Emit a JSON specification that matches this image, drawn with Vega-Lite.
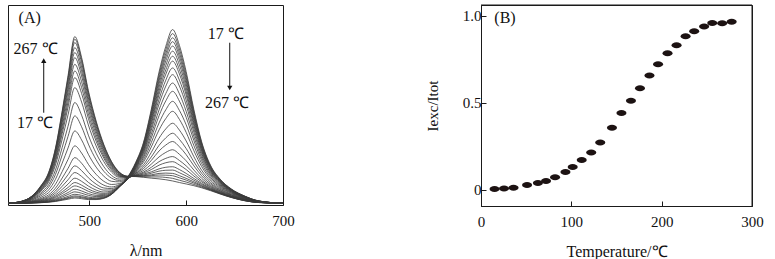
{
"$schema":"https://vega.github.io/schema/vega-lite/v6.json",
"padding":{"left":5,"top":4,"right":5,"bottom":0},
"background":"white",
"spacing":129,
"config":{
 "view":{"stroke":"#1a1a1a","strokeWidth":1},
 "font":"Liberation Serif",
 "axis":{"grid":false,"domain":false,"labelFlush":false,"tickColor":"#1a1a1a","tickSize":-5,"labelFont":"Liberation Serif","labelFontSize":15,"labelColor":"#111","titleFont":"Liberation Serif","titleFontSize":16,"titleFontWeight":"normal","titleColor":"#111","labelPadding":13,"titlePadding":14}
},
"datasets":{
"ratio":[{"T":15,"r":0.006},{"T":25.5,"r":0.008},{"T":36,"r":0.013},{"T":51,"r":0.029},{"T":63,"r":0.04},{"T":72,"r":0.052},{"T":82,"r":0.073},{"T":93.5,"r":0.103},{"T":101.5,"r":0.132},{"T":111.5,"r":0.172},{"T":122,"r":0.216},{"T":132,"r":0.273},{"T":145,"r":0.358},{"T":155.5,"r":0.442},{"T":166,"r":0.513},{"T":176,"r":0.585},{"T":186.5,"r":0.658},{"T":196,"r":0.723},{"T":206.5,"r":0.786},{"T":216.5,"r":0.832},{"T":226.5,"r":0.883},{"T":236,"r":0.912},{"T":247,"r":0.939},{"T":256,"r":0.96},{"T":267,"r":0.958},{"T":277.5,"r":0.967}],
"frameB":[{"x":0,"x2":300,"y":1.063,"y2":1.063},{"x":300,"x2":300,"y":-0.092,"y2":1.063}],
"spec":[
{"T":17,"nm":416,"I":0.010},{"T":17,"nm":430,"I":0.010},{"T":17,"nm":440,"I":0.011},{"T":17,"nm":450,"I":0.013},{"T":17,"nm":458,"I":0.016},{"T":17,"nm":465,"I":0.020},{"T":17,"nm":472,"I":0.027},{"T":17,"nm":478,"I":0.033},{"T":17,"nm":485,"I":0.040},{"T":17,"nm":492,"I":0.036},{"T":17,"nm":499,"I":0.031},{"T":17,"nm":507,"I":0.031},{"T":17,"nm":515,"I":0.038},{"T":17,"nm":523,"I":0.061},{"T":17,"nm":531,"I":0.105},{"T":17,"nm":540,"I":0.163},{"T":17,"nm":548,"I":0.244},{"T":17,"nm":556,"I":0.358},{"T":17,"nm":564,"I":0.545},{"T":17,"nm":572,"I":0.758},{"T":17,"nm":579,"I":0.905},{"T":17,"nm":586,"I":1.000},{"T":17,"nm":593,"I":0.910},{"T":17,"nm":600,"I":0.760},{"T":17,"nm":608,"I":0.543},{"T":17,"nm":616,"I":0.360},{"T":17,"nm":625,"I":0.228},{"T":17,"nm":635,"I":0.148},{"T":17,"nm":647,"I":0.090},{"T":17,"nm":660,"I":0.052},{"T":17,"nm":675,"I":0.023},{"T":17,"nm":700,"I":0.010},
{"T":27,"nm":416,"I":0.010},{"T":27,"nm":430,"I":0.010},{"T":27,"nm":440,"I":0.011},{"T":27,"nm":450,"I":0.014},{"T":27,"nm":458,"I":0.017},{"T":27,"nm":465,"I":0.022},{"T":27,"nm":472,"I":0.030},{"T":27,"nm":478,"I":0.038},{"T":27,"nm":485,"I":0.046},{"T":27,"nm":492,"I":0.042},{"T":27,"nm":499,"I":0.035},{"T":27,"nm":507,"I":0.034},{"T":27,"nm":515,"I":0.040},{"T":27,"nm":523,"I":0.062},{"T":27,"nm":531,"I":0.104},{"T":27,"nm":540,"I":0.161},{"T":27,"nm":548,"I":0.241},{"T":27,"nm":556,"I":0.352},{"T":27,"nm":564,"I":0.534},{"T":27,"nm":572,"I":0.742},{"T":27,"nm":579,"I":0.885},{"T":27,"nm":586,"I":0.977},{"T":27,"nm":593,"I":0.889},{"T":27,"nm":600,"I":0.743},{"T":27,"nm":608,"I":0.531},{"T":27,"nm":616,"I":0.353},{"T":27,"nm":625,"I":0.224},{"T":27,"nm":635,"I":0.146},{"T":27,"nm":647,"I":0.089},{"T":27,"nm":660,"I":0.051},{"T":27,"nm":675,"I":0.023},{"T":27,"nm":700,"I":0.010},
{"T":37,"nm":416,"I":0.010},{"T":37,"nm":430,"I":0.010},{"T":37,"nm":440,"I":0.012},{"T":37,"nm":450,"I":0.014},{"T":37,"nm":458,"I":0.018},{"T":37,"nm":465,"I":0.024},{"T":37,"nm":472,"I":0.033},{"T":37,"nm":478,"I":0.042},{"T":37,"nm":485,"I":0.052},{"T":37,"nm":492,"I":0.047},{"T":37,"nm":499,"I":0.039},{"T":37,"nm":507,"I":0.036},{"T":37,"nm":515,"I":0.042},{"T":37,"nm":523,"I":0.062},{"T":37,"nm":531,"I":0.103},{"T":37,"nm":540,"I":0.159},{"T":37,"nm":548,"I":0.237},{"T":37,"nm":556,"I":0.346},{"T":37,"nm":564,"I":0.523},{"T":37,"nm":572,"I":0.725},{"T":37,"nm":579,"I":0.864},{"T":37,"nm":586,"I":0.953},{"T":37,"nm":593,"I":0.868},{"T":37,"nm":600,"I":0.725},{"T":37,"nm":608,"I":0.520},{"T":37,"nm":616,"I":0.346},{"T":37,"nm":625,"I":0.220},{"T":37,"nm":635,"I":0.143},{"T":37,"nm":647,"I":0.087},{"T":37,"nm":660,"I":0.051},{"T":37,"nm":675,"I":0.023},{"T":37,"nm":700,"I":0.010},
{"T":47,"nm":416,"I":0.010},{"T":47,"nm":430,"I":0.011},{"T":47,"nm":440,"I":0.012},{"T":47,"nm":450,"I":0.015},{"T":47,"nm":458,"I":0.019},{"T":47,"nm":465,"I":0.027},{"T":47,"nm":472,"I":0.038},{"T":47,"nm":478,"I":0.049},{"T":47,"nm":485,"I":0.061},{"T":47,"nm":492,"I":0.055},{"T":47,"nm":499,"I":0.045},{"T":47,"nm":507,"I":0.041},{"T":47,"nm":515,"I":0.045},{"T":47,"nm":523,"I":0.064},{"T":47,"nm":531,"I":0.103},{"T":47,"nm":540,"I":0.158},{"T":47,"nm":548,"I":0.234},{"T":47,"nm":556,"I":0.340},{"T":47,"nm":564,"I":0.512},{"T":47,"nm":572,"I":0.709},{"T":47,"nm":579,"I":0.844},{"T":47,"nm":586,"I":0.931},{"T":47,"nm":593,"I":0.847},{"T":47,"nm":600,"I":0.709},{"T":47,"nm":608,"I":0.508},{"T":47,"nm":616,"I":0.339},{"T":47,"nm":625,"I":0.216},{"T":47,"nm":635,"I":0.141},{"T":47,"nm":647,"I":0.086},{"T":47,"nm":660,"I":0.050},{"T":47,"nm":675,"I":0.022},{"T":47,"nm":700,"I":0.010},
{"T":57,"nm":416,"I":0.010},{"T":57,"nm":430,"I":0.011},{"T":57,"nm":440,"I":0.013},{"T":57,"nm":450,"I":0.017},{"T":57,"nm":458,"I":0.022},{"T":57,"nm":465,"I":0.031},{"T":57,"nm":472,"I":0.046},{"T":57,"nm":478,"I":0.060},{"T":57,"nm":485,"I":0.075},{"T":57,"nm":492,"I":0.067},{"T":57,"nm":499,"I":0.055},{"T":57,"nm":507,"I":0.048},{"T":57,"nm":515,"I":0.049},{"T":57,"nm":523,"I":0.066},{"T":57,"nm":531,"I":0.104},{"T":57,"nm":540,"I":0.156},{"T":57,"nm":548,"I":0.231},{"T":57,"nm":556,"I":0.334},{"T":57,"nm":564,"I":0.500},{"T":57,"nm":572,"I":0.691},{"T":57,"nm":579,"I":0.822},{"T":57,"nm":586,"I":0.906},{"T":57,"nm":593,"I":0.825},{"T":57,"nm":600,"I":0.690},{"T":57,"nm":608,"I":0.496},{"T":57,"nm":616,"I":0.331},{"T":57,"nm":625,"I":0.212},{"T":57,"nm":635,"I":0.139},{"T":57,"nm":647,"I":0.085},{"T":57,"nm":660,"I":0.049},{"T":57,"nm":675,"I":0.022},{"T":57,"nm":700,"I":0.010},
{"T":67,"nm":416,"I":0.010},{"T":67,"nm":430,"I":0.011},{"T":67,"nm":440,"I":0.013},{"T":67,"nm":450,"I":0.018},{"T":67,"nm":458,"I":0.025},{"T":67,"nm":465,"I":0.036},{"T":67,"nm":472,"I":0.054},{"T":67,"nm":478,"I":0.071},{"T":67,"nm":485,"I":0.090},{"T":67,"nm":492,"I":0.080},{"T":67,"nm":499,"I":0.065},{"T":67,"nm":507,"I":0.055},{"T":67,"nm":515,"I":0.054},{"T":67,"nm":523,"I":0.069},{"T":67,"nm":531,"I":0.104},{"T":67,"nm":540,"I":0.155},{"T":67,"nm":548,"I":0.227},{"T":67,"nm":556,"I":0.327},{"T":67,"nm":564,"I":0.487},{"T":67,"nm":572,"I":0.671},{"T":67,"nm":579,"I":0.797},{"T":67,"nm":586,"I":0.877},{"T":67,"nm":593,"I":0.799},{"T":67,"nm":600,"I":0.669},{"T":67,"nm":608,"I":0.482},{"T":67,"nm":616,"I":0.323},{"T":67,"nm":625,"I":0.207},{"T":67,"nm":635,"I":0.136},{"T":67,"nm":647,"I":0.083},{"T":67,"nm":660,"I":0.048},{"T":67,"nm":675,"I":0.022},{"T":67,"nm":700,"I":0.010},
{"T":77,"nm":416,"I":0.010},{"T":77,"nm":430,"I":0.011},{"T":77,"nm":440,"I":0.014},{"T":77,"nm":450,"I":0.020},{"T":77,"nm":458,"I":0.028},{"T":77,"nm":465,"I":0.043},{"T":77,"nm":472,"I":0.065},{"T":77,"nm":478,"I":0.086},{"T":77,"nm":485,"I":0.109},{"T":77,"nm":492,"I":0.097},{"T":77,"nm":499,"I":0.078},{"T":77,"nm":507,"I":0.064},{"T":77,"nm":515,"I":0.060},{"T":77,"nm":523,"I":0.072},{"T":77,"nm":531,"I":0.105},{"T":77,"nm":540,"I":0.154},{"T":77,"nm":548,"I":0.223},{"T":77,"nm":556,"I":0.319},{"T":77,"nm":564,"I":0.474},{"T":77,"nm":572,"I":0.650},{"T":77,"nm":579,"I":0.771},{"T":77,"nm":586,"I":0.848},{"T":77,"nm":593,"I":0.772},{"T":77,"nm":600,"I":0.647},{"T":77,"nm":608,"I":0.467},{"T":77,"nm":616,"I":0.314},{"T":77,"nm":625,"I":0.202},{"T":77,"nm":635,"I":0.133},{"T":77,"nm":647,"I":0.082},{"T":77,"nm":660,"I":0.047},{"T":77,"nm":675,"I":0.021},{"T":77,"nm":700,"I":0.010},
{"T":87,"nm":416,"I":0.010},{"T":87,"nm":430,"I":0.011},{"T":87,"nm":440,"I":0.015},{"T":87,"nm":450,"I":0.022},{"T":87,"nm":458,"I":0.032},{"T":87,"nm":465,"I":0.049},{"T":87,"nm":472,"I":0.075},{"T":87,"nm":478,"I":0.100},{"T":87,"nm":485,"I":0.128},{"T":87,"nm":492,"I":0.113},{"T":87,"nm":499,"I":0.091},{"T":87,"nm":507,"I":0.073},{"T":87,"nm":515,"I":0.066},{"T":87,"nm":523,"I":0.076},{"T":87,"nm":531,"I":0.106},{"T":87,"nm":540,"I":0.153},{"T":87,"nm":548,"I":0.220},{"T":87,"nm":556,"I":0.312},{"T":87,"nm":564,"I":0.461},{"T":87,"nm":572,"I":0.630},{"T":87,"nm":579,"I":0.746},{"T":87,"nm":586,"I":0.820},{"T":87,"nm":593,"I":0.747},{"T":87,"nm":600,"I":0.627},{"T":87,"nm":608,"I":0.453},{"T":87,"nm":616,"I":0.306},{"T":87,"nm":625,"I":0.198},{"T":87,"nm":635,"I":0.130},{"T":87,"nm":647,"I":0.080},{"T":87,"nm":660,"I":0.046},{"T":87,"nm":675,"I":0.021},{"T":87,"nm":700,"I":0.010},
{"T":97,"nm":416,"I":0.010},{"T":97,"nm":430,"I":0.012},{"T":97,"nm":440,"I":0.016},{"T":97,"nm":450,"I":0.025},{"T":97,"nm":458,"I":0.036},{"T":97,"nm":465,"I":0.057},{"T":97,"nm":472,"I":0.089},{"T":97,"nm":478,"I":0.119},{"T":97,"nm":485,"I":0.153},{"T":97,"nm":492,"I":0.135},{"T":97,"nm":499,"I":0.108},{"T":97,"nm":507,"I":0.085},{"T":97,"nm":515,"I":0.074},{"T":97,"nm":523,"I":0.080},{"T":97,"nm":531,"I":0.107},{"T":97,"nm":540,"I":0.151},{"T":97,"nm":548,"I":0.215},{"T":97,"nm":556,"I":0.303},{"T":97,"nm":564,"I":0.443},{"T":97,"nm":572,"I":0.603},{"T":97,"nm":579,"I":0.712},{"T":97,"nm":586,"I":0.781},{"T":97,"nm":593,"I":0.712},{"T":97,"nm":600,"I":0.598},{"T":97,"nm":608,"I":0.434},{"T":97,"nm":616,"I":0.294},{"T":97,"nm":625,"I":0.191},{"T":97,"nm":635,"I":0.127},{"T":97,"nm":647,"I":0.078},{"T":97,"nm":660,"I":0.045},{"T":97,"nm":675,"I":0.021},{"T":97,"nm":700,"I":0.010},
{"T":107,"nm":416,"I":0.010},{"T":107,"nm":430,"I":0.012},{"T":107,"nm":440,"I":0.017},{"T":107,"nm":450,"I":0.028},{"T":107,"nm":458,"I":0.042},{"T":107,"nm":465,"I":0.068},{"T":107,"nm":472,"I":0.107},{"T":107,"nm":478,"I":0.144},{"T":107,"nm":485,"I":0.185},{"T":107,"nm":492,"I":0.163},{"T":107,"nm":499,"I":0.129},{"T":107,"nm":507,"I":0.101},{"T":107,"nm":515,"I":0.085},{"T":107,"nm":523,"I":0.086},{"T":107,"nm":531,"I":0.109},{"T":107,"nm":540,"I":0.150},{"T":107,"nm":548,"I":0.211},{"T":107,"nm":556,"I":0.294},{"T":107,"nm":564,"I":0.426},{"T":107,"nm":572,"I":0.576},{"T":107,"nm":579,"I":0.678},{"T":107,"nm":586,"I":0.743},{"T":107,"nm":593,"I":0.678},{"T":107,"nm":600,"I":0.570},{"T":107,"nm":608,"I":0.414},{"T":107,"nm":616,"I":0.282},{"T":107,"nm":625,"I":0.185},{"T":107,"nm":635,"I":0.123},{"T":107,"nm":647,"I":0.076},{"T":107,"nm":660,"I":0.044},{"T":107,"nm":675,"I":0.020},{"T":107,"nm":700,"I":0.010},
{"T":117,"nm":416,"I":0.010},{"T":117,"nm":430,"I":0.013},{"T":117,"nm":440,"I":0.019},{"T":117,"nm":450,"I":0.032},{"T":117,"nm":458,"I":0.049},{"T":117,"nm":465,"I":0.080},{"T":117,"nm":472,"I":0.128},{"T":117,"nm":478,"I":0.173},{"T":117,"nm":485,"I":0.223},{"T":117,"nm":492,"I":0.196},{"T":117,"nm":499,"I":0.155},{"T":117,"nm":507,"I":0.119},{"T":117,"nm":515,"I":0.097},{"T":117,"nm":523,"I":0.094},{"T":117,"nm":531,"I":0.112},{"T":117,"nm":540,"I":0.149},{"T":117,"nm":548,"I":0.206},{"T":117,"nm":556,"I":0.282},{"T":117,"nm":564,"I":0.403},{"T":117,"nm":572,"I":0.542},{"T":117,"nm":579,"I":0.636},{"T":117,"nm":586,"I":0.695},{"T":117,"nm":593,"I":0.634},{"T":117,"nm":600,"I":0.534},{"T":117,"nm":608,"I":0.390},{"T":117,"nm":616,"I":0.268},{"T":117,"nm":625,"I":0.177},{"T":117,"nm":635,"I":0.118},{"T":117,"nm":647,"I":0.073},{"T":117,"nm":660,"I":0.043},{"T":117,"nm":675,"I":0.020},{"T":117,"nm":700,"I":0.010},
{"T":127,"nm":416,"I":0.010},{"T":127,"nm":430,"I":0.013},{"T":127,"nm":440,"I":0.020},{"T":127,"nm":450,"I":0.037},{"T":127,"nm":458,"I":0.058},{"T":127,"nm":465,"I":0.096},{"T":127,"nm":472,"I":0.154},{"T":127,"nm":478,"I":0.209},{"T":127,"nm":485,"I":0.270},{"T":127,"nm":492,"I":0.238},{"T":127,"nm":499,"I":0.187},{"T":127,"nm":507,"I":0.142},{"T":127,"nm":515,"I":0.113},{"T":127,"nm":523,"I":0.103},{"T":127,"nm":531,"I":0.116},{"T":127,"nm":540,"I":0.149},{"T":127,"nm":548,"I":0.201},{"T":127,"nm":556,"I":0.271},{"T":127,"nm":564,"I":0.382},{"T":127,"nm":572,"I":0.509},{"T":127,"nm":579,"I":0.594},{"T":127,"nm":586,"I":0.648},{"T":127,"nm":593,"I":0.592},{"T":127,"nm":600,"I":0.500},{"T":127,"nm":608,"I":0.367},{"T":127,"nm":616,"I":0.253},{"T":127,"nm":625,"I":0.169},{"T":127,"nm":635,"I":0.113},{"T":127,"nm":647,"I":0.071},{"T":127,"nm":660,"I":0.041},{"T":127,"nm":675,"I":0.019},{"T":127,"nm":700,"I":0.010},
{"T":137,"nm":416,"I":0.010},{"T":137,"nm":430,"I":0.014},{"T":137,"nm":440,"I":0.023},{"T":137,"nm":450,"I":0.044},{"T":137,"nm":458,"I":0.071},{"T":137,"nm":465,"I":0.118},{"T":137,"nm":472,"I":0.191},{"T":137,"nm":478,"I":0.260},{"T":137,"nm":485,"I":0.337},{"T":137,"nm":492,"I":0.296},{"T":137,"nm":499,"I":0.232},{"T":137,"nm":507,"I":0.175},{"T":137,"nm":515,"I":0.135},{"T":137,"nm":523,"I":0.117},{"T":137,"nm":531,"I":0.122},{"T":137,"nm":540,"I":0.149},{"T":137,"nm":548,"I":0.196},{"T":137,"nm":556,"I":0.258},{"T":137,"nm":564,"I":0.356},{"T":137,"nm":572,"I":0.468},{"T":137,"nm":579,"I":0.543},{"T":137,"nm":586,"I":0.591},{"T":137,"nm":593,"I":0.539},{"T":137,"nm":600,"I":0.457},{"T":137,"nm":608,"I":0.338},{"T":137,"nm":616,"I":0.236},{"T":137,"nm":625,"I":0.159},{"T":137,"nm":635,"I":0.108},{"T":137,"nm":647,"I":0.067},{"T":137,"nm":660,"I":0.039},{"T":137,"nm":675,"I":0.019},{"T":137,"nm":700,"I":0.010},
{"T":147,"nm":416,"I":0.010},{"T":147,"nm":430,"I":0.015},{"T":147,"nm":440,"I":0.027},{"T":147,"nm":450,"I":0.053},{"T":147,"nm":458,"I":0.086},{"T":147,"nm":465,"I":0.146},{"T":147,"nm":472,"I":0.239},{"T":147,"nm":478,"I":0.325},{"T":147,"nm":485,"I":0.422},{"T":147,"nm":492,"I":0.371},{"T":147,"nm":499,"I":0.289},{"T":147,"nm":507,"I":0.216},{"T":147,"nm":515,"I":0.164},{"T":147,"nm":523,"I":0.135},{"T":147,"nm":531,"I":0.132},{"T":147,"nm":540,"I":0.152},{"T":147,"nm":548,"I":0.192},{"T":147,"nm":556,"I":0.246},{"T":147,"nm":564,"I":0.331},{"T":147,"nm":572,"I":0.428},{"T":147,"nm":579,"I":0.493},{"T":147,"nm":586,"I":0.534},{"T":147,"nm":593,"I":0.488},{"T":147,"nm":600,"I":0.414},{"T":147,"nm":608,"I":0.309},{"T":147,"nm":616,"I":0.219},{"T":147,"nm":625,"I":0.149},{"T":147,"nm":635,"I":0.102},{"T":147,"nm":647,"I":0.064},{"T":147,"nm":660,"I":0.037},{"T":147,"nm":675,"I":0.018},{"T":147,"nm":700,"I":0.010},
{"T":157,"nm":416,"I":0.010},{"T":157,"nm":430,"I":0.016},{"T":157,"nm":440,"I":0.030},{"T":157,"nm":450,"I":0.062},{"T":157,"nm":458,"I":0.102},{"T":157,"nm":465,"I":0.174},{"T":157,"nm":472,"I":0.286},{"T":157,"nm":478,"I":0.391},{"T":157,"nm":485,"I":0.508},{"T":157,"nm":492,"I":0.446},{"T":157,"nm":499,"I":0.347},{"T":157,"nm":507,"I":0.258},{"T":157,"nm":515,"I":0.192},{"T":157,"nm":523,"I":0.153},{"T":157,"nm":531,"I":0.140},{"T":157,"nm":540,"I":0.153},{"T":157,"nm":548,"I":0.187},{"T":157,"nm":556,"I":0.230},{"T":157,"nm":564,"I":0.300},{"T":157,"nm":572,"I":0.381},{"T":157,"nm":579,"I":0.434},{"T":157,"nm":586,"I":0.466},{"T":157,"nm":593,"I":0.427},{"T":157,"nm":600,"I":0.365},{"T":157,"nm":608,"I":0.275},{"T":157,"nm":616,"I":0.198},{"T":157,"nm":625,"I":0.138},{"T":157,"nm":635,"I":0.096},{"T":157,"nm":647,"I":0.060},{"T":157,"nm":660,"I":0.035},{"T":157,"nm":675,"I":0.017},{"T":157,"nm":700,"I":0.010},
{"T":167,"nm":416,"I":0.010},{"T":167,"nm":430,"I":0.017},{"T":167,"nm":440,"I":0.033},{"T":167,"nm":450,"I":0.070},{"T":167,"nm":458,"I":0.116},{"T":167,"nm":465,"I":0.199},{"T":167,"nm":472,"I":0.329},{"T":167,"nm":478,"I":0.449},{"T":167,"nm":485,"I":0.584},{"T":167,"nm":492,"I":0.512},{"T":167,"nm":499,"I":0.398},{"T":167,"nm":507,"I":0.295},{"T":167,"nm":515,"I":0.218},{"T":167,"nm":523,"I":0.168},{"T":167,"nm":531,"I":0.148},{"T":167,"nm":540,"I":0.154},{"T":167,"nm":548,"I":0.182},{"T":167,"nm":556,"I":0.218},{"T":167,"nm":564,"I":0.274},{"T":167,"nm":572,"I":0.340},{"T":167,"nm":579,"I":0.383},{"T":167,"nm":586,"I":0.409},{"T":167,"nm":593,"I":0.374},{"T":167,"nm":600,"I":0.322},{"T":167,"nm":608,"I":0.246},{"T":167,"nm":616,"I":0.181},{"T":167,"nm":625,"I":0.128},{"T":167,"nm":635,"I":0.090},{"T":167,"nm":647,"I":0.057},{"T":167,"nm":660,"I":0.034},{"T":167,"nm":675,"I":0.017},{"T":167,"nm":700,"I":0.010},
{"T":177,"nm":416,"I":0.010},{"T":177,"nm":430,"I":0.018},{"T":177,"nm":440,"I":0.036},{"T":177,"nm":450,"I":0.079},{"T":177,"nm":458,"I":0.132},{"T":177,"nm":465,"I":0.228},{"T":177,"nm":472,"I":0.376},{"T":177,"nm":478,"I":0.514},{"T":177,"nm":485,"I":0.669},{"T":177,"nm":492,"I":0.587},{"T":177,"nm":499,"I":0.456},{"T":177,"nm":507,"I":0.337},{"T":177,"nm":515,"I":0.247},{"T":177,"nm":523,"I":0.187},{"T":177,"nm":531,"I":0.158},{"T":177,"nm":540,"I":0.158},{"T":177,"nm":548,"I":0.180},{"T":177,"nm":556,"I":0.208},{"T":177,"nm":564,"I":0.254},{"T":177,"nm":572,"I":0.308},{"T":177,"nm":579,"I":0.342},{"T":177,"nm":586,"I":0.362},{"T":177,"nm":593,"I":0.332},{"T":177,"nm":600,"I":0.287},{"T":177,"nm":608,"I":0.223},{"T":177,"nm":616,"I":0.166},{"T":177,"nm":625,"I":0.120},{"T":177,"nm":635,"I":0.085},{"T":177,"nm":647,"I":0.055},{"T":177,"nm":660,"I":0.032},{"T":177,"nm":675,"I":0.016},{"T":177,"nm":700,"I":0.010},
{"T":187,"nm":416,"I":0.010},{"T":187,"nm":430,"I":0.019},{"T":187,"nm":440,"I":0.039},{"T":187,"nm":450,"I":0.085},{"T":187,"nm":458,"I":0.142},{"T":187,"nm":465,"I":0.246},{"T":187,"nm":472,"I":0.407},{"T":187,"nm":478,"I":0.558},{"T":187,"nm":485,"I":0.726},{"T":187,"nm":492,"I":0.636},{"T":187,"nm":499,"I":0.494},{"T":187,"nm":507,"I":0.364},{"T":187,"nm":515,"I":0.266},{"T":187,"nm":523,"I":0.198},{"T":187,"nm":531,"I":0.163},{"T":187,"nm":540,"I":0.159},{"T":187,"nm":548,"I":0.176},{"T":187,"nm":556,"I":0.197},{"T":187,"nm":564,"I":0.233},{"T":187,"nm":572,"I":0.274},{"T":187,"nm":579,"I":0.300},{"T":187,"nm":586,"I":0.315},{"T":187,"nm":593,"I":0.289},{"T":187,"nm":600,"I":0.252},{"T":187,"nm":608,"I":0.199},{"T":187,"nm":616,"I":0.152},{"T":187,"nm":625,"I":0.112},{"T":187,"nm":635,"I":0.081},{"T":187,"nm":647,"I":0.052},{"T":187,"nm":660,"I":0.031},{"T":187,"nm":675,"I":0.016},{"T":187,"nm":700,"I":0.010},
{"T":197,"nm":416,"I":0.010},{"T":197,"nm":430,"I":0.019},{"T":197,"nm":440,"I":0.040},{"T":197,"nm":450,"I":0.089},{"T":197,"nm":458,"I":0.150},{"T":197,"nm":465,"I":0.259},{"T":197,"nm":472,"I":0.429},{"T":197,"nm":478,"I":0.587},{"T":197,"nm":485,"I":0.764},{"T":197,"nm":492,"I":0.670},{"T":197,"nm":499,"I":0.520},{"T":197,"nm":507,"I":0.383},{"T":197,"nm":515,"I":0.278},{"T":197,"nm":523,"I":0.206},{"T":197,"nm":531,"I":0.167},{"T":197,"nm":540,"I":0.158},{"T":197,"nm":548,"I":0.172},{"T":197,"nm":556,"I":0.188},{"T":197,"nm":564,"I":0.215},{"T":197,"nm":572,"I":0.247},{"T":197,"nm":579,"I":0.266},{"T":197,"nm":586,"I":0.276},{"T":197,"nm":593,"I":0.254},{"T":197,"nm":600,"I":0.223},{"T":197,"nm":608,"I":0.180},{"T":197,"nm":616,"I":0.140},{"T":197,"nm":625,"I":0.106},{"T":197,"nm":635,"I":0.077},{"T":197,"nm":647,"I":0.050},{"T":197,"nm":660,"I":0.029},{"T":197,"nm":675,"I":0.015},{"T":197,"nm":700,"I":0.010},
{"T":207,"nm":416,"I":0.010},{"T":207,"nm":430,"I":0.020},{"T":207,"nm":440,"I":0.042},{"T":207,"nm":450,"I":0.093},{"T":207,"nm":458,"I":0.157},{"T":207,"nm":465,"I":0.271},{"T":207,"nm":472,"I":0.450},{"T":207,"nm":478,"I":0.616},{"T":207,"nm":485,"I":0.802},{"T":207,"nm":492,"I":0.703},{"T":207,"nm":499,"I":0.546},{"T":207,"nm":507,"I":0.402},{"T":207,"nm":515,"I":0.291},{"T":207,"nm":523,"I":0.214},{"T":207,"nm":531,"I":0.170},{"T":207,"nm":540,"I":0.159},{"T":207,"nm":548,"I":0.170},{"T":207,"nm":556,"I":0.182},{"T":207,"nm":564,"I":0.202},{"T":207,"nm":572,"I":0.227},{"T":207,"nm":579,"I":0.241},{"T":207,"nm":586,"I":0.247},{"T":207,"nm":593,"I":0.228},{"T":207,"nm":600,"I":0.202},{"T":207,"nm":608,"I":0.165},{"T":207,"nm":616,"I":0.132},{"T":207,"nm":625,"I":0.101},{"T":207,"nm":635,"I":0.074},{"T":207,"nm":647,"I":0.048},{"T":207,"nm":660,"I":0.029},{"T":207,"nm":675,"I":0.015},{"T":207,"nm":700,"I":0.010},
{"T":217,"nm":416,"I":0.010},{"T":217,"nm":430,"I":0.020},{"T":217,"nm":440,"I":0.043},{"T":217,"nm":450,"I":0.097},{"T":217,"nm":458,"I":0.164},{"T":217,"nm":465,"I":0.284},{"T":217,"nm":472,"I":0.471},{"T":217,"nm":478,"I":0.645},{"T":217,"nm":485,"I":0.840},{"T":217,"nm":492,"I":0.736},{"T":217,"nm":499,"I":0.571},{"T":217,"nm":507,"I":0.420},{"T":217,"nm":515,"I":0.303},{"T":217,"nm":523,"I":0.222},{"T":217,"nm":531,"I":0.174},{"T":217,"nm":540,"I":0.160},{"T":217,"nm":548,"I":0.167},{"T":217,"nm":556,"I":0.176},{"T":217,"nm":564,"I":0.189},{"T":217,"nm":572,"I":0.206},{"T":217,"nm":579,"I":0.215},{"T":217,"nm":586,"I":0.218},{"T":217,"nm":593,"I":0.202},{"T":217,"nm":600,"I":0.180},{"T":217,"nm":608,"I":0.151},{"T":217,"nm":616,"I":0.123},{"T":217,"nm":625,"I":0.096},{"T":217,"nm":635,"I":0.071},{"T":217,"nm":647,"I":0.047},{"T":217,"nm":660,"I":0.028},{"T":217,"nm":675,"I":0.015},{"T":217,"nm":700,"I":0.010},
{"T":227,"nm":416,"I":0.010},{"T":227,"nm":430,"I":0.020},{"T":227,"nm":440,"I":0.044},{"T":227,"nm":450,"I":0.100},{"T":227,"nm":458,"I":0.169},{"T":227,"nm":465,"I":0.294},{"T":227,"nm":472,"I":0.487},{"T":227,"nm":478,"I":0.667},{"T":227,"nm":485,"I":0.869},{"T":227,"nm":492,"I":0.762},{"T":227,"nm":499,"I":0.591},{"T":227,"nm":507,"I":0.434},{"T":227,"nm":515,"I":0.313},{"T":227,"nm":523,"I":0.228},{"T":227,"nm":531,"I":0.177},{"T":227,"nm":540,"I":0.161},{"T":227,"nm":548,"I":0.166},{"T":227,"nm":556,"I":0.171},{"T":227,"nm":564,"I":0.181},{"T":227,"nm":572,"I":0.193},{"T":227,"nm":579,"I":0.198},{"T":227,"nm":586,"I":0.199},{"T":227,"nm":593,"I":0.184},{"T":227,"nm":600,"I":0.166},{"T":227,"nm":608,"I":0.141},{"T":227,"nm":616,"I":0.117},{"T":227,"nm":625,"I":0.093},{"T":227,"nm":635,"I":0.069},{"T":227,"nm":647,"I":0.046},{"T":227,"nm":660,"I":0.027},{"T":227,"nm":675,"I":0.015},{"T":227,"nm":700,"I":0.010},
{"T":237,"nm":416,"I":0.010},{"T":237,"nm":430,"I":0.021},{"T":237,"nm":440,"I":0.046},{"T":237,"nm":450,"I":0.103},{"T":237,"nm":458,"I":0.174},{"T":237,"nm":465,"I":0.303},{"T":237,"nm":472,"I":0.502},{"T":237,"nm":478,"I":0.689},{"T":237,"nm":485,"I":0.897},{"T":237,"nm":492,"I":0.786},{"T":237,"nm":499,"I":0.610},{"T":237,"nm":507,"I":0.448},{"T":237,"nm":515,"I":0.323},{"T":237,"nm":523,"I":0.234},{"T":237,"nm":531,"I":0.181},{"T":237,"nm":540,"I":0.161},{"T":237,"nm":548,"I":0.165},{"T":237,"nm":556,"I":0.167},{"T":237,"nm":564,"I":0.172},{"T":237,"nm":572,"I":0.180},{"T":237,"nm":579,"I":0.182},{"T":237,"nm":586,"I":0.180},{"T":237,"nm":593,"I":0.167},{"T":237,"nm":600,"I":0.152},{"T":237,"nm":608,"I":0.132},{"T":237,"nm":616,"I":0.111},{"T":237,"nm":625,"I":0.089},{"T":237,"nm":635,"I":0.067},{"T":237,"nm":647,"I":0.044},{"T":237,"nm":660,"I":0.026},{"T":237,"nm":675,"I":0.015},{"T":237,"nm":700,"I":0.010},
{"T":247,"nm":416,"I":0.010},{"T":247,"nm":430,"I":0.021},{"T":247,"nm":440,"I":0.047},{"T":247,"nm":450,"I":0.106},{"T":247,"nm":458,"I":0.179},{"T":247,"nm":465,"I":0.312},{"T":247,"nm":472,"I":0.518},{"T":247,"nm":478,"I":0.711},{"T":247,"nm":485,"I":0.926},{"T":247,"nm":492,"I":0.811},{"T":247,"nm":499,"I":0.629},{"T":247,"nm":507,"I":0.462},{"T":247,"nm":515,"I":0.332},{"T":247,"nm":523,"I":0.240},{"T":247,"nm":531,"I":0.184},{"T":247,"nm":540,"I":0.163},{"T":247,"nm":548,"I":0.165},{"T":247,"nm":556,"I":0.165},{"T":247,"nm":564,"I":0.167},{"T":247,"nm":572,"I":0.171},{"T":247,"nm":579,"I":0.170},{"T":247,"nm":586,"I":0.167},{"T":247,"nm":593,"I":0.155},{"T":247,"nm":600,"I":0.142},{"T":247,"nm":608,"I":0.125},{"T":247,"nm":616,"I":0.107},{"T":247,"nm":625,"I":0.087},{"T":247,"nm":635,"I":0.066},{"T":247,"nm":647,"I":0.044},{"T":247,"nm":660,"I":0.026},{"T":247,"nm":675,"I":0.014},{"T":247,"nm":700,"I":0.010},
{"T":257,"nm":416,"I":0.010},{"T":257,"nm":430,"I":0.021},{"T":257,"nm":440,"I":0.047},{"T":257,"nm":450,"I":0.108},{"T":257,"nm":458,"I":0.183},{"T":257,"nm":465,"I":0.319},{"T":257,"nm":472,"I":0.529},{"T":257,"nm":478,"I":0.725},{"T":257,"nm":485,"I":0.945},{"T":257,"nm":492,"I":0.828},{"T":257,"nm":499,"I":0.642},{"T":257,"nm":507,"I":0.471},{"T":257,"nm":515,"I":0.339},{"T":257,"nm":523,"I":0.244},{"T":257,"nm":531,"I":0.186},{"T":257,"nm":540,"I":0.163},{"T":257,"nm":548,"I":0.163},{"T":257,"nm":556,"I":0.161},{"T":257,"nm":564,"I":0.160},{"T":257,"nm":572,"I":0.160},{"T":257,"nm":579,"I":0.157},{"T":257,"nm":586,"I":0.152},{"T":257,"nm":593,"I":0.141},{"T":257,"nm":600,"I":0.131},{"T":257,"nm":608,"I":0.117},{"T":257,"nm":616,"I":0.102},{"T":257,"nm":625,"I":0.085},{"T":257,"nm":635,"I":0.064},{"T":257,"nm":647,"I":0.043},{"T":257,"nm":660,"I":0.025},{"T":257,"nm":675,"I":0.014},{"T":257,"nm":700,"I":0.010},
{"T":267,"nm":416,"I":0.010},{"T":267,"nm":430,"I":0.021},{"T":267,"nm":440,"I":0.048},{"T":267,"nm":450,"I":0.110},{"T":267,"nm":458,"I":0.186},{"T":267,"nm":465,"I":0.324},{"T":267,"nm":472,"I":0.537},{"T":267,"nm":478,"I":0.737},{"T":267,"nm":485,"I":0.960},{"T":267,"nm":492,"I":0.841},{"T":267,"nm":499,"I":0.652},{"T":267,"nm":507,"I":0.479},{"T":267,"nm":515,"I":0.344},{"T":267,"nm":523,"I":0.247},{"T":267,"nm":531,"I":0.187},{"T":267,"nm":540,"I":0.163},{"T":267,"nm":548,"I":0.162},{"T":267,"nm":556,"I":0.158},{"T":267,"nm":564,"I":0.153},{"T":267,"nm":572,"I":0.149},{"T":267,"nm":579,"I":0.144},{"T":267,"nm":586,"I":0.137},{"T":267,"nm":593,"I":0.128},{"T":267,"nm":600,"I":0.120},{"T":267,"nm":608,"I":0.110},{"T":267,"nm":616,"I":0.098},{"T":267,"nm":625,"I":0.082},{"T":267,"nm":635,"I":0.063},{"T":267,"nm":647,"I":0.042},{"T":267,"nm":660,"I":0.025},{"T":267,"nm":675,"I":0.014},{"T":267,"nm":700,"I":0.010}
]},
"hconcat":[
{"width":275,"height":200,
 "layer":[
  {"data":{"name":"spec"},
   "mark":{"type":"line","interpolate":"monotone","stroke":"#3a3a3a","strokeWidth":0.8},
   "encoding":{
    "x":{"field":"nm","type":"quantitative","scale":{"domain":[416,700],"nice":false,"zero":false},"axis":{"values":[500,600,700],"title":"λ/nm"}},
    "y":{"field":"I","type":"quantitative","scale":{"domain":[0,1.14],"nice":false},"axis":null},
    "detail":{"field":"T","type":"nominal"}}},
  {"data":{"values":[{"nm":438.4,"I":1.066,"s":"(A)"},{"nm":444.4,"I":0.889,"s":"267 ℃"},{"nm":443.9,"I":0.469,"s":"17 ℃"},{"nm":641,"I":0.973,"s":"17 ℃"},{"nm":642.2,"I":0.583,"s":"267 ℃"}]},
   "mark":{"type":"text","align":"center","baseline":"middle","fontSize":16,"font":"Liberation Serif","color":"#111"},
   "encoding":{"x":{"field":"nm","type":"quantitative"},"y":{"field":"I","type":"quantitative"},"text":{"field":"s"}}},
  {"data":{"values":[{"nm":452.9,"I":0.526,"I2":0.823},{"nm":645,"I":0.925,"I2":0.667}]},
   "mark":{"type":"rule","color":"#111","strokeWidth":1},
   "encoding":{"x":{"field":"nm","type":"quantitative"},"y":{"field":"I","type":"quantitative"},"y2":{"field":"I2"}}},
  {"data":{"values":[{"nm":452.9,"I":0.823,"d":"up"},{"nm":645,"I":0.667,"d":"down"}]},
   "mark":{"type":"point","filled":true,"color":"#111","size":28,"opacity":1},
   "encoding":{"x":{"field":"nm","type":"quantitative"},"y":{"field":"I","type":"quantitative"},
    "shape":{"field":"d","type":"nominal","scale":{"domain":["up","down"],"range":["triangle-up","triangle-down"]},"legend":null}}}
 ]},
{"width":271,"height":201,
 "layer":[
  {"data":{"name":"ratio"},
   "mark":{"type":"point","filled":true,"shape":"M-1,0A1,0.6,0,1,1,1,0A1,0.6,0,1,1,-1,0Z","size":100,"color":"#1c1212","opacity":1},
   "encoding":{
    "x":{"field":"T","type":"quantitative","scale":{"domain":[0,300],"nice":false},"axis":{"values":[0,100,200,300],"title":"Temperature/℃","domain":true,"domainColor":"#1a1a1a"}},
    "y":{"field":"r","type":"quantitative","scale":{"domain":[-0.092,1.063],"nice":false,"zero":false},"axis":{"values":[0,0.5,1],"title":"Iexc/Itot","labelExpr":"datum.value == 0 ? '0' : format(datum.value, '.1f')","labelPadding":5,"titlePadding":22,"titleFontSize":15,"domain":true,"domainColor":"#1a1a1a"}}}},
  {"data":{"name":"frameB"},
   "mark":{"type":"rule","color":"#1a1a1a","strokeWidth":1},
   "encoding":{"x":{"field":"x","type":"quantitative"},"x2":{"field":"x2"},"y":{"field":"y","type":"quantitative"},"y2":{"field":"y2"}}},
  {"data":{"values":[{"T":26.6,"r":0.99,"s":"(B)"}]},
   "mark":{"type":"text","align":"center","baseline":"middle","fontSize":16,"font":"Liberation Serif","color":"#111"},
   "encoding":{"x":{"field":"T","type":"quantitative"},"y":{"field":"r","type":"quantitative"},"text":{"field":"s"}}}
 ]}
]
}
